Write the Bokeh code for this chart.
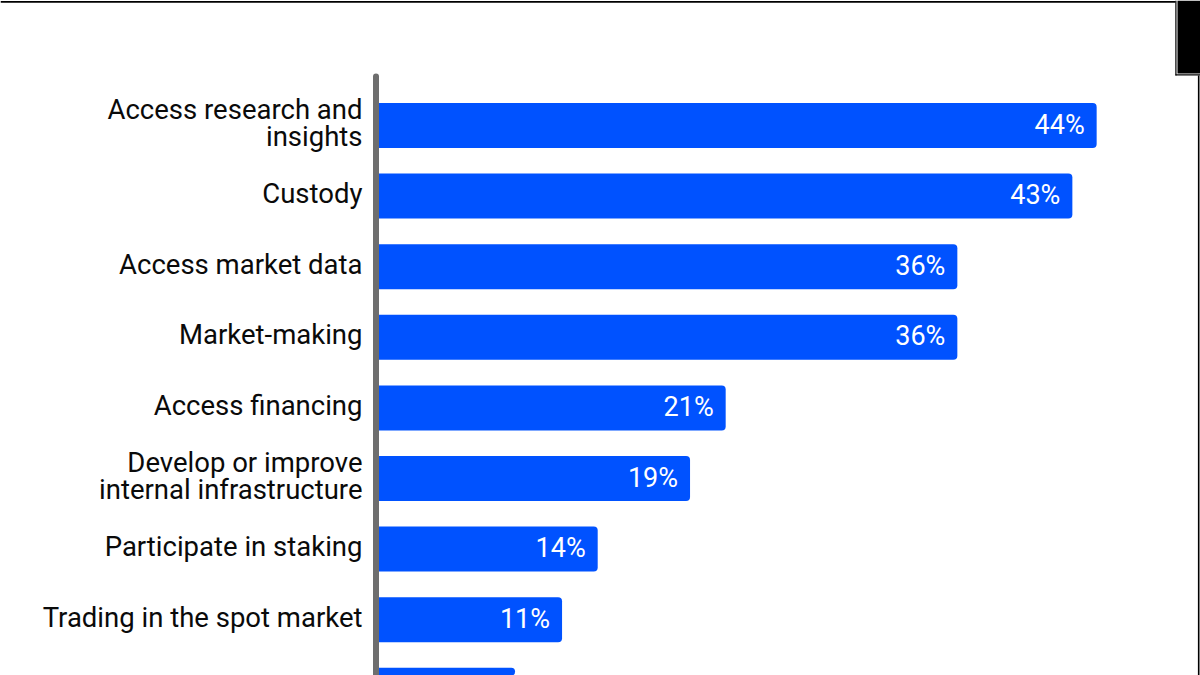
from bokeh.plotting import figure
from bokeh.models import Range1d, ColumnDataSource
from bokeh.core.properties import value
from bokeh.embed import file_html
from bokeh.resources import INLINE

# ---- data ----
categories = [
    "Access research and\ninsights",
    "Custody",
    "Access market data",
    "Market-making",
    "Access financing",
    "Develop or improve\ninternal infrastructure",
    "Participate in staking",
    "Trading in the spot market",
    "",
]
shares = [44.3, 42.8, 35.7, 35.7, 21.4, 19.2, 13.5, 11.3, 8.4]
share_labels = ["44%", "43%", "36%", "36%", "21%", "19%", "14%", "11%", ""]

# ---- layout constants (pixels) ----
BLUE = "#0052FF"
W, H = 1200, 675
PX_PER_UNIT = 16.2      # pixels per percentage point
ROW_PX = 70.6           # pixels between bar centres
ZERO_X = 378.5          # pixel x of 0 %
FIRST_Y = 125           # pixel y of first bar centre
LINE_PX = 27            # line spacing of wrapped labels


def sx(px):
    return (px - ZERO_X) / PX_PER_UNIT


def sy(py):
    return (py - FIRST_Y) / ROW_PX


pos = list(range(len(categories)))
src = ColumnDataSource(dict(y=pos, v=shares, lab=share_labels))

# split wrapped category labels into separate lines
ly, ltxt, loff = [], [], []
for i, c in enumerate(categories):
    lines = c.split("\n") if c else []
    n = len(lines)
    for k, t in enumerate(lines):
        ly.append(i)
        ltxt.append(t)
        loff.append(-2.5 + (k - (n - 1) / 2) * LINE_PX)
lab_src = ColumnDataSource(dict(y=ly, t=ltxt, off=loff, zero=[0] * len(ly)))

p = figure(width=W, height=H, output_backend="svg", toolbar_location=None,
           x_range=Range1d(sx(0), sx(W)), y_range=Range1d(sy(H), sy(0)),
           min_border=0, outline_line_color=None,
           background_fill_color="white", border_fill_color="white")
p.axis.visible = False
p.grid.visible = False

# axis line
p.segment(x0=[sx(375.5)], y0=[sy(76)], x1=[sx(375.5)], y1=[sy(H + 10)],
          line_color="#6e6e6e", line_width=6, line_cap="round")

# bars
p.hbar(y="y", left=0, right="v", height=45 / ROW_PX, source=src, fill_color=BLUE,
       line_color=None, border_radius=(0, 4, 4, 0))

# value labels
p.text(x="v", y="y", text="lab", source=src, x_offset=-12, y_offset=-1,
       text_align="right", text_baseline="middle", text_color="white",
       text_font=value("Roboto"), text_font_size="27px")

# category labels
p.text(x="zero", y="y", text="t", source=lab_src, x_offset=-16.5, y_offset="off",
       text_align="right", text_baseline="middle", text_color="#0a0a0a",
       text_font=value("Roboto"), text_font_size="27.5px")

# frame decorations of the original picture
p.quad(left=[sx(0)], right=[sx(1175)], top=[sy(0.5)], bottom=[sy(2.2)],
       fill_color="black", line_color=None)
p.quad(left=[sx(1177)], right=[sx(1200)], top=[sy(0)], bottom=[sy(73)],
       fill_color="black", line_color=None)
p.quad(left=[sx(1174.8)], right=[sx(1176)], top=[sy(0)], bottom=[sy(75)],
       fill_color="black", line_color=None)
p.quad(left=[sx(1175)], right=[sx(1200)], top=[sy(73.8)], bottom=[sy(75)],
       fill_color="black", line_color=None)
p.quad(left=[sx(1197.4)], right=[sx(1199)], top=[sy(75)], bottom=[sy(H)],
       fill_color="black", line_color=None)

open("out.html", "w").write(file_html(p, INLINE))
